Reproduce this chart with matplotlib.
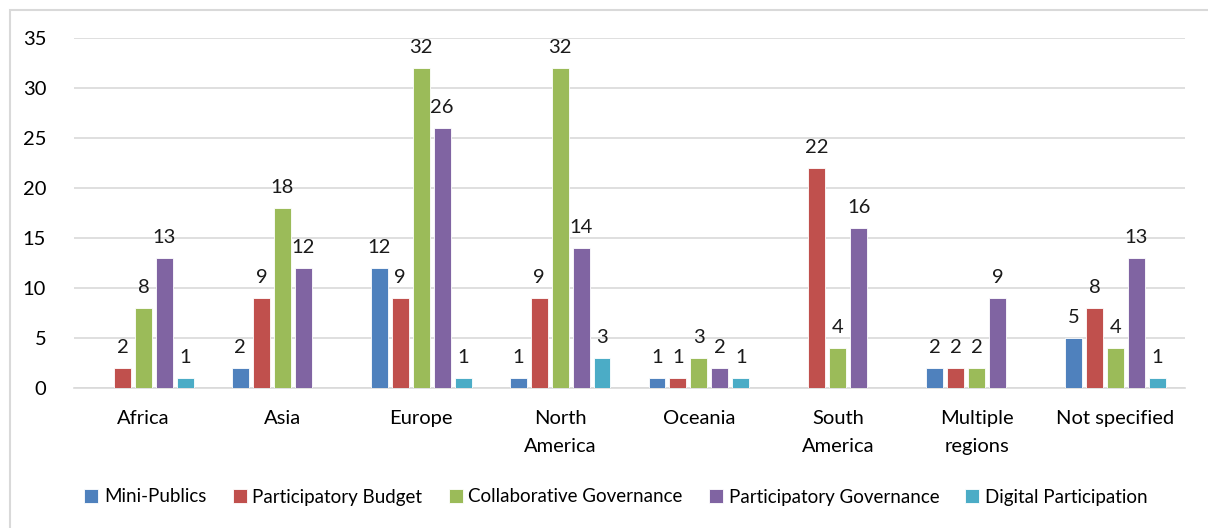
import matplotlib.pyplot as plt
import numpy as np
from matplotlib.patches import Rectangle

regions = ["Africa", "Asia", "Europe", "North\nAmerica", "Oceania",
           "South\nAmerica", "Multiple\nregions", "Not specified"]
series_names = ["Mini-Publics", "Participatory Budget", "Collaborative Governance",
                "Participatory Governance", "Digital Participation"]
mini_publics = [0, 2, 12, 1, 1, 0, 2, 5]
participatory_budget = [2, 9, 9, 9, 1, 22, 2, 8]
collaborative_governance = [8, 18, 32, 32, 3, 4, 2, 4]
participatory_governance = [13, 12, 26, 14, 2, 16, 9, 13]
digital_participation = [1, 0, 1, 3, 1, 0, 0, 1]
yticks = [0, 5, 10, 15, 20, 25, 30, 35]

series = [mini_publics, participatory_budget, collaborative_governance,
          participatory_governance, digital_participation]
colors = ["#4F81BD", "#C0504D", "#9BBB59", "#8064A2", "#4BACC6"]

plt.rcParams['font.family'] = ['Lato', 'DejaVu Sans']

fig = plt.figure(figsize=(12.08, 5.28), dpi=100)
ax = fig.add_axes([74 / 1208, 1 - 388 / 528, (1185 - 74) / 1208, 350 / 528])

x = np.arange(len(regions))
step = 0.151
width = 0.122
for i, (vals, name, col) in enumerate(zip(series, series_names, colors)):
    pos = x + (i - 2) * step
    bars = ax.bar(pos, vals, width=width, color=col, edgecolor="white",
                  linewidth=0.6, label=name, zorder=3)
    for b, v in zip(bars, vals):
        if v > 0:
            ax.text(b.get_x() + b.get_width() / 2, v + 1.2, f"{v}",
                    ha="center", va="bottom", fontsize=14.5, color="#1a1a1a")

ax.set_xlim(-0.5, len(regions) - 0.5)
ax.set_ylim(0, 35)
ax.set_yticks(yticks)
ax.set_xticks(x)
ax.set_xticklabels(regions, fontsize=14.5, linespacing=1.75)
ax.tick_params(axis="y", labelsize=14.5, length=0, pad=20)
ax.tick_params(axis="x", length=0, pad=16)
ax.grid(axis="y", color="#D9D9D9", linewidth=1.2, zorder=0)
for s in ["left", "right", "top"]:
    ax.spines[s].set_visible(False)
ax.spines["bottom"].set_color("#D9D9D9")
ax.spines["bottom"].set_linewidth(1.2)

leg = fig.legend(loc="center", bbox_to_anchor=(616 / 1208, 1 - 497 / 528),
                 ncol=5, frameon=False, fontsize=13.5, handlelength=0.75,
                 handleheight=0.75, handletextpad=0.3, columnspacing=1.4)

fig.patches.append(Rectangle((10 / 1208, -0.05), 1.1, 1 - 10 / 528 + 0.05,
                             transform=fig.transFigure, fill=False,
                             edgecolor="#D9D9D9", linewidth=1.5))

fig.savefig("out.png", dpi=100, facecolor="white")
